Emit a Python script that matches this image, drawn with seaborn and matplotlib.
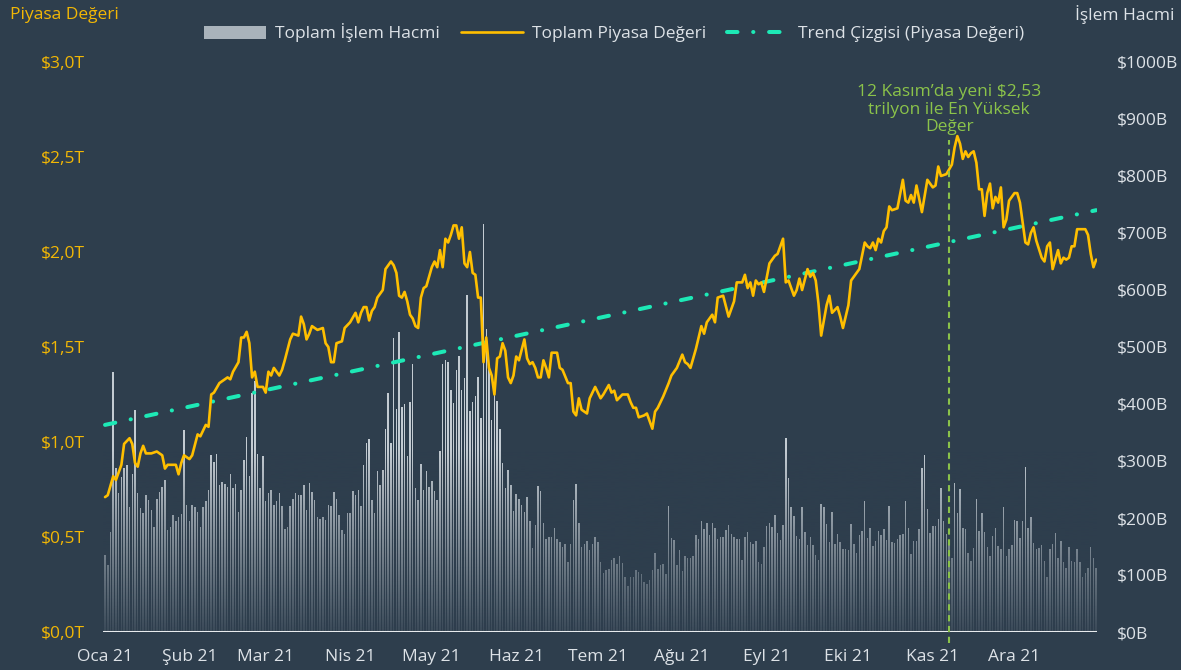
import matplotlib
matplotlib.use("Agg")
import matplotlib.pyplot as plt
import matplotlib.colors as mcolors
from matplotlib.lines import Line2D
from matplotlib.patches import Patch
import seaborn as sns
import pandas as pd
import numpy as np

# --- data ---
# total market cap, trillion $, day of 2021 (0 = 1 Jan)
cap_day = [0, 1, 3, 4, 6, 7, 9, 10, 11, 12, 13, 14, 15, 17, 19, 21, 22, 23, 25, 26, 27, 28, 29, 31, 32, 34, 35, 37, 38, 39,
           40, 42, 43, 45, 46, 47, 49, 50, 51, 52, 53, 54, 55, 56, 58, 59, 60, 61, 62, 64, 65, 66, 68, 69, 71, 72, 73, 74, 75, 76,
           78, 80, 81, 82, 83, 84, 85, 87, 88, 90, 92, 93, 94, 95, 96, 97, 98, 99, 100, 101, 102, 103, 105, 106, 107, 108, 109, 110, 111, 112,
           113, 114, 115, 116, 117, 118, 120, 121, 122, 123, 124, 125, 126, 127, 128, 129, 130, 131, 132, 133, 134, 135, 136, 137, 138, 139, 140, 141, 142, 143,
           144, 145, 146, 147, 148, 149, 150, 151, 152, 154, 155, 156, 157, 158, 159, 160, 161, 162, 163, 164, 166, 167, 168, 170, 171, 172, 173, 174, 175, 177,
           178, 179, 180, 182, 183, 185, 186, 187, 188, 190, 192, 193, 194, 195, 196, 198, 199, 201, 202, 203, 205, 207, 208, 210, 212, 213, 214, 215, 216, 217,
           219, 220, 221, 223, 224, 225, 227, 229, 231, 232, 234, 235, 236, 237, 238, 239, 240, 241, 242, 244, 246, 247, 248, 249, 250, 251, 253, 254, 255, 256,
           258, 259, 260, 261, 262, 263, 265, 266, 267, 269, 270, 271, 272, 273, 274, 276, 277, 279, 280, 281, 282, 283, 284, 285, 286, 287, 288, 289, 291, 293,
           294, 295, 296, 297, 298, 300, 302, 304, 305, 306, 307, 309, 311, 312, 313, 314, 315, 316, 317, 318, 319, 320, 321, 322, 323, 324, 325, 326, 327, 328,
           329, 330, 331, 332, 334, 335, 336, 338, 339, 340, 341, 342, 344, 345, 346, 347, 348, 349, 350, 351, 352, 353, 354, 355, 356, 357, 359, 360, 361, 362,
           363, 364]
cap_val = [0.71, 0.72, 0.82, 0.80, 0.88, 0.99, 1.02, 0.99, 0.89, 0.87, 0.94, 0.98, 0.94, 0.94, 0.95, 0.93, 0.86, 0.88, 0.88, 0.88, 0.83, 0.89, 0.93, 0.91, 0.93, 1.04, 1.03, 1.09, 1.08, 1.25,
           1.26, 1.31, 1.32, 1.34, 1.33, 1.37, 1.42, 1.55, 1.55, 1.58, 1.52, 1.34, 1.37, 1.29, 1.29, 1.26, 1.37, 1.35, 1.39, 1.35, 1.38, 1.43, 1.54, 1.57, 1.56, 1.66, 1.62, 1.54, 1.57, 1.61,
           1.59, 1.60, 1.52, 1.50, 1.42, 1.42, 1.52, 1.53, 1.60, 1.63, 1.68, 1.63, 1.68, 1.71, 1.71, 1.64, 1.69, 1.71, 1.76, 1.78, 1.80, 1.91, 1.95, 1.93, 1.89, 1.77, 1.76, 1.79, 1.74, 1.67,
           1.65, 1.61, 1.60, 1.76, 1.81, 1.82, 1.92, 1.95, 1.92, 2.01, 1.92, 2.07, 2.05, 2.09, 2.14, 2.14, 2.07, 2.13, 1.94, 1.92, 2.00, 1.89, 1.88, 1.76, 1.76, 1.42, 1.55, 1.39, 1.35, 1.25,
           1.44, 1.45, 1.52, 1.48, 1.34, 1.31, 1.35, 1.45, 1.43, 1.54, 1.44, 1.41, 1.42, 1.39, 1.34, 1.34, 1.43, 1.39, 1.34, 1.47, 1.47, 1.39, 1.38, 1.31, 1.31, 1.16, 1.14, 1.23, 1.17, 1.15,
           1.23, 1.26, 1.29, 1.23, 1.25, 1.30, 1.26, 1.27, 1.22, 1.25, 1.25, 1.21, 1.18, 1.18, 1.13, 1.14, 1.15, 1.07, 1.16, 1.18, 1.24, 1.31, 1.35, 1.39, 1.46, 1.42, 1.41, 1.39, 1.44, 1.49,
           1.61, 1.57, 1.63, 1.67, 1.63, 1.76, 1.77, 1.66, 1.74, 1.84, 1.84, 1.88, 1.81, 1.84, 1.77, 1.85, 1.83, 1.84, 1.79, 1.94, 1.98, 1.99, 2.03, 2.07, 1.84, 1.85, 1.77, 1.80, 1.86, 1.80,
           1.91, 1.87, 1.89, 1.85, 1.73, 1.56, 1.72, 1.77, 1.68, 1.71, 1.66, 1.60, 1.66, 1.72, 1.85, 1.89, 1.91, 2.05, 2.03, 2.02, 2.05, 2.01, 2.07, 2.05, 2.11, 2.13, 2.24, 2.22, 2.23, 2.38,
           2.27, 2.26, 2.30, 2.26, 2.35, 2.21, 2.38, 2.34, 2.35, 2.45, 2.40, 2.41, 2.46, 2.55, 2.61, 2.57, 2.49, 2.53, 2.50, 2.52, 2.53, 2.47, 2.33, 2.33, 2.19, 2.31, 2.36, 2.23, 2.29, 2.26,
           2.34, 2.13, 2.17, 2.27, 2.31, 2.31, 2.26, 2.05, 2.04, 2.10, 2.13, 2.06, 1.97, 1.95, 2.03, 2.05, 1.91, 1.96, 2.01, 1.94, 1.97, 1.96, 1.97, 2.03, 2.03, 2.12, 2.12, 2.12, 2.09, 1.99,
           1.92, 1.96]

# total daily trading volume, billion $, one value per day of 2021
vol_val = [135, 118, 176, 457, 287, 243, 272, 287, 293, 220, 278, 389, 243, 217, 209, 240, 232, 214, 185, 234,
           246, 255, 267, 179, 185, 205, 194, 202, 207, 354, 223, 194, 223, 220, 211, 185, 220, 229, 250, 311,
           299, 313, 258, 264, 260, 255, 278, 252, 260, 211, 250, 302, 342, 274, 420, 441, 313, 252, 308, 229,
           243, 250, 223, 229, 244, 221, 180, 185, 221, 234, 243, 240, 240, 258, 214, 262, 246, 232, 202, 198,
           202, 196, 223, 221, 246, 234, 205, 179, 172, 209, 208,
           247, 240, 250, 221, 293, 331, 338, 232, 208, 282, 258, 285, 357, 419, 331, 515, 392, 526, 395, 400,
           309, 404, 470, 252, 232, 294, 250, 283, 255, 265, 248, 232, 318, 471, 478, 474, 425, 401, 460, 484,
           425, 445, 591, 388, 404, 414, 448, 375, 716, 531, 463, 372, 416, 406, 357, 297, 252, 285, 258, 213,
           242, 233, 223, 211, 236, 194, 147, 188, 256, 248, 192, 163, 167, 167, 182, 163, 158, 150, 154, 123,
           155, 232, 260, 191, 150, 155, 160, 144, 155, 167, 158,
           123, 103, 109, 110, 126, 129, 120, 133, 121, 97, 81, 97, 97, 109, 106, 102, 87, 84, 92, 109,
           139, 110, 118, 119, 102, 221, 165, 161, 118, 144, 107, 133, 129, 129, 133, 170, 164, 195, 180, 191,
           170, 191, 182, 163, 166, 167, 179, 188, 172, 166, 164, 164, 127, 166, 176, 158, 155, 160, 123, 120,
           150, 186, 191, 185, 205, 173, 161, 188, 340, 270, 219, 204, 168, 163, 219, 176, 153, 167, 153, 135,
           127, 224, 219, 189, 158, 211, 155, 172, 158, 145, 145, 144,
           190, 154, 138, 171, 177, 229, 165, 182, 151, 160, 177, 171, 180, 162, 221, 158, 156, 164, 171, 172,
           230, 182, 136, 160, 159, 180, 288, 310, 216, 173, 186, 186, 199, 253, 195, 172, 156, 130, 261, 209,
           251, 183, 180, 139, 125, 147, 234, 178, 209, 175, 149, 134, 169, 182, 151, 145, 219, 134, 146, 152,
           196, 195, 165, 195, 290, 183, 201, 156, 145, 147, 152, 125, 97, 146, 154, 173, 130, 159, 123, 112,
           149, 125, 123, 146, 123, 97, 104, 113, 149, 130, 112]

trend_day = [0, 364]
trend_val = [1.09, 2.22]

peak_day = 310
peak_text = "12 Kasım’da yeni \\$2,53\ntrilyon ile En Yüksek\nDeğer"

month_labels = ["Oca 21", "Şub 21", "Mar 21", "Nis 21", "May 21", "Haz 21",
                "Tem 21", "Ağu 21", "Eyl 21", "Eki 21", "Kas 21", "Ara 21"]
cap_ticks = [0, 0.5, 1.0, 1.5, 2.0, 2.5, 3.0]
vol_ticks = list(range(0, 1001, 100))

# --- style ---
bg = "#2e3e4d"
gold = "#f2b705"
yellow = "#ffbf00"
teal = "#1de9b6"
green = "#8bc34a"
light = "#dde2e7"

sns.set_theme(style="dark", rc={"axes.facecolor": bg, "figure.facecolor": bg})
plt.rcParams["font.family"] = ["Open Sans", "DejaVu Sans"]
fs = 12.5

fig = plt.figure(figsize=(11.81, 6.70), dpi=100)
ax = fig.add_axes([103 / 1181, 1 - 632 / 670, (1097 - 103) / 1181, (632 - 62) / 670])
ax2 = ax.twinx()

days = np.arange(len(vol_val))
sns.barplot(x=days, y=vol_val, ax=ax, native_scale=True, color="#c3cbd2",
            saturation=1, width=0.55, linewidth=0, errorbar=None)

# fade bars to background toward the baseline
grad = np.zeros((256, 1, 4))
grad[..., :3] = mcolors.to_rgb(bg)
grad[:, 0, 3] = np.clip(0.92 * (1 - np.linspace(0, 1, 256)), 0, 1)
ax.imshow(grad, origin="lower", aspect="auto", extent=[-2, 366, 0, 320], zorder=3)

ax.axhline(0, color="#e8ebee", lw=2.2, zorder=4)

sns.lineplot(x=trend_day, y=trend_val, ax=ax2, color=teal, linewidth=2.9,
             linestyle=(0, (2.6, 3.9, 0.05, 3.9)), dash_capstyle="round", legend=False)
sns.lineplot(x=cap_day, y=cap_val, ax=ax2, color=yellow, linewidth=1.9, legend=False)

ax2.vlines(peak_day, -0.06, 2.59, color=green, lw=1.5, linestyles=(0, (3, 2.2)), clip_on=False)
ax2.text(peak_day, 2.75, peak_text, ha="center", va="center", color=green,
         fontsize=fs, linespacing=1.15)

# axes
month_starts = pd.date_range("2021-01-01", "2021-12-01", freq="MS")
month_pos = [(d - month_starts[0]).days for d in month_starts]
ax.set_xlim(-0.75, 364.3)
ax.set_xticks(month_pos)
ax.set_xticklabels(month_labels, color=light, fontsize=fs)
ax.set_xlabel("")

ax.set_ylim(0, 1000)
ax.yaxis.tick_right()
ax.set_yticks(vol_ticks)
ax.set_yticklabels([f"${v}B" for v in vol_ticks], color=light, fontsize=fs)
ax.set_ylabel("")

ax2.set_ylim(0, 3.0)
ax2.yaxis.tick_left()
ax2.set_yticks(cap_ticks)
ax2.set_yticklabels([f"${v:.1f}T".replace(".", ",") for v in cap_ticks], color=gold, fontsize=fs)
ax2.set_ylabel("")

ax.tick_params(axis="x", length=0, pad=12)
ax.tick_params(axis="y", length=0, pad=14)
ax2.tick_params(axis="y", length=0, pad=13)
for a in (ax, ax2):
    a.grid(False)
    for s in a.spines.values():
        s.set_visible(False)

# titles and legend
fig.text(10 / 1181, 1 - 15 / 670, "Piyasa Değeri", color=gold, fontsize=fs, ha="left", va="center")
fig.text(1075 / 1181, 1 - 15 / 670, "İşlem Hacmi", color=light, fontsize=fs, ha="left", va="center")

handles = [Patch(facecolor="#a9b3bb", edgecolor="none"),
           Line2D([], [], color=yellow, lw=1.9),
           Line2D([], [], color=teal, lw=2.9, linestyle=(0, (2.6, 3.9, 0.05, 3.9)), dash_capstyle="round")]
labels = ["Toplam İşlem Hacmi", "Toplam Piyasa Değeri", "Trend Çizgisi (Piyasa Değeri)"]
leg = fig.legend(handles, labels, loc="center", bbox_to_anchor=(614 / 1181, 1 - 33 / 670), ncol=3,
                 frameon=False, fontsize=fs, handlelength=3.6, handleheight=0.7,
                 handletextpad=0.5, columnspacing=1.2)
for t in leg.get_texts():
    t.set_color(light)

fig.savefig("out.png", dpi=100, facecolor=bg)
